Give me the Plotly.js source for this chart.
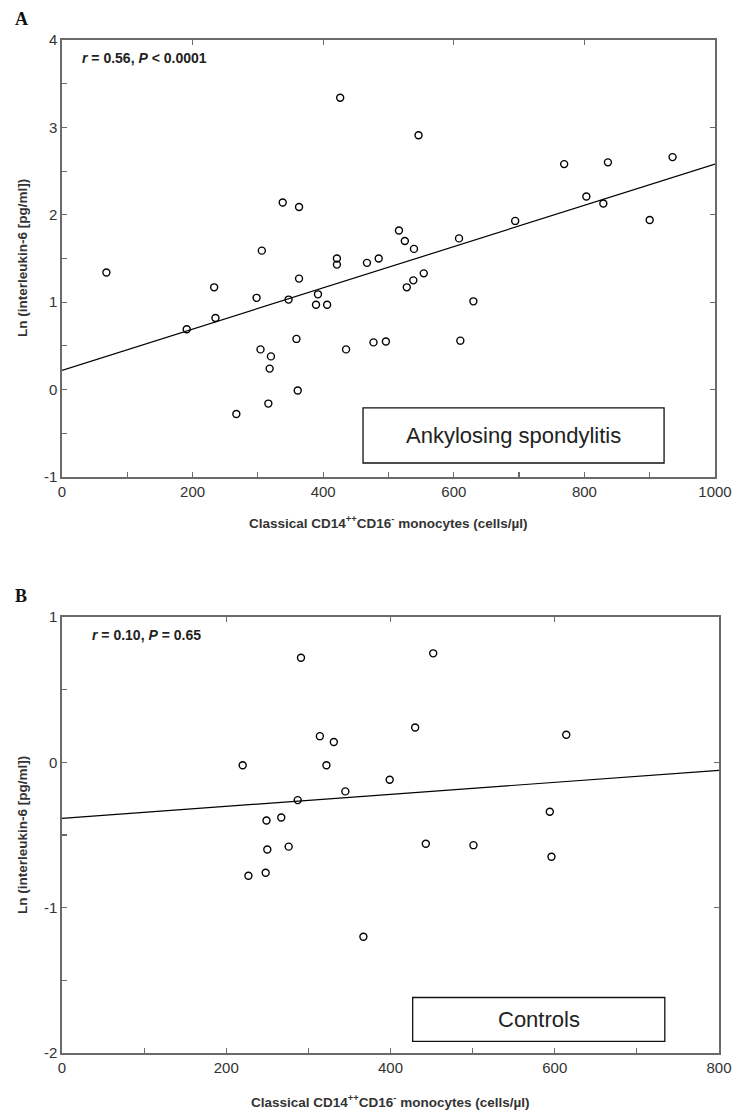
<!DOCTYPE html>
<html>
<head>
<meta charset="utf-8">
<script src="https://cdn.plot.ly/plotly-3.0.1.min.js"></script>
<style>html,body{margin:0;padding:0;background:#fff;}#chart{width:734px;height:1111px;}</style>
</head>
<body>
<div id="chart"></div>
<script>
// Panel A: Ankylosing spondylitis
const asMonocytes = [68,191,233,235,267,298,304,306,316,318,320,338,347,359,361,363,363,389,392,406,421,421,426,435,467,477,485,496,516,525,528,538,539,546,554,608,610,630,694,769,803,829,836,900,935];
const asLnIL6 = [1.34,0.69,1.17,0.82,-0.28,1.05,0.46,1.59,-0.16,0.24,0.38,2.14,1.03,0.58,-0.01,2.09,1.27,0.97,1.09,0.97,1.50,1.43,3.34,0.46,1.45,0.54,1.50,0.55,1.82,1.70,1.17,1.25,1.61,2.91,1.33,1.73,0.56,1.01,1.93,2.58,2.21,2.13,2.60,1.94,2.66];
const asFitX = [0, 1000];
const asFitY = [0.22, 2.58];
const asStat = '<i>r</i> = 0.56, <i>P</i> < 0.0001';
const asLabel = 'Ankylosing spondylitis';
const asXTickVals = [0, 200, 400, 600, 800, 1000];
const asXTickText = ['0', '200', '400', '600', '800', '1000'];
const asYTickVals = [-1, 0, 1, 2, 3, 4];
const asYTickText = ['-1', '0', '1', '2', '3', '4'];

// Panel B: Controls
const ctrlMonocytes = [220,227,248,249,250,267,276,287,291,314,322,331,345,367,399,430,443,452,501,594,596,614];
const ctrlLnIL6 = [-0.02,-0.78,-0.76,-0.40,-0.60,-0.38,-0.58,-0.26,0.72,0.18,-0.02,0.14,-0.20,-1.20,-0.12,0.24,-0.56,0.75,-0.57,-0.34,-0.65,0.19];
const ctrlFitX = [0, 800];
const ctrlFitY = [-0.385, -0.055];
const ctrlStat = '<i>r</i> = 0.10, <i>P</i> = 0.65';
const ctrlLabel = 'Controls';
const ctrlXTickVals = [0, 200, 400, 600, 800];
const ctrlXTickText = ['0', '200', '400', '600', '800'];
const ctrlYTickVals = [-2, -1, 0, 1];
const ctrlYTickText = ['-2', '-1', '0', '1'];

const xTitle = 'Classical CD14<sup>++</sup>CD16<sup>-</sup> monocytes (cells/µl)';
const yTitle = 'Ln (interleukin-6 [pg/ml])';

const W = 734, H = 1111;
const px = v => v / W;
const py = v => 1 - v / H;

const sans = 'Liberation Sans, Arial, sans-serif';
const axisCol = '#6a6a6a';
const tickFont = {family: sans, size: 15, color: '#333'};

const marker = {symbol: 'circle-open', size: 7, color: '#000', line: {width: 1.4, color: '#000'}};

const traces = [
  {x: asMonocytes, y: asLnIL6, type: 'scatter', mode: 'markers', marker: marker, xaxis: 'x', yaxis: 'y', showlegend: false, cliponaxis: false},
  {x: asFitX, y: asFitY, type: 'scatter', mode: 'lines', line: {color: '#000', width: 1.2}, xaxis: 'x', yaxis: 'y', showlegend: false},
  {x: ctrlMonocytes, y: ctrlLnIL6, type: 'scatter', mode: 'markers', marker: marker, xaxis: 'x2', yaxis: 'y2', showlegend: false, cliponaxis: false},
  {x: ctrlFitX, y: ctrlFitY, type: 'scatter', mode: 'lines', line: {color: '#000', width: 1.2}, xaxis: 'x2', yaxis: 'y2', showlegend: false},
  {x: [], y: [], type: 'scatter', mode: 'markers', xaxis: 'x3', yaxis: 'y', showlegend: false},
  {x: [], y: [], type: 'scatter', mode: 'markers', xaxis: 'x', yaxis: 'y3', showlegend: false},
  {x: [], y: [], type: 'scatter', mode: 'markers', xaxis: 'x4', yaxis: 'y2', showlegend: false},
  {x: [], y: [], type: 'scatter', mode: 'markers', xaxis: 'x2', yaxis: 'y4', showlegend: false}
];

function mainAxis(extra) {
  return Object.assign({
    tickmode: 'array',
    ticks: 'inside', ticklen: 5, tickwidth: 1.2, tickcolor: axisCol,
    showline: true, linecolor: axisCol, linewidth: 1.6, mirror: true,
    showgrid: false, zeroline: false, tickfont: tickFont, fixedrange: true
  }, extra);
}
function overlayAxis(extra) {
  return Object.assign({
    tickmode: 'array',
    ticks: 'inside', ticklen: 5, tickwidth: 1.2, tickcolor: axisCol,
    showline: false, showgrid: false, zeroline: false, showticklabels: false, fixedrange: true
  }, extra);
}
const minorX = {tickmode: 'linear', tick0: 0, dtick: 100, ticks: 'inside', ticklen: 5, tickwidth: 1.2, tickcolor: axisCol, showgrid: false};
const minorY = {tickmode: 'linear', tick0: 0, dtick: 0.5, ticks: 'inside', ticklen: 5, tickwidth: 1.2, tickcolor: axisCol, showgrid: false};

const layout = {
  width: W, height: H,
  margin: {l: 0, r: 0, t: 0, b: 0},
  paper_bgcolor: '#fff', plot_bgcolor: '#fff',
  showlegend: false,
  xaxis: mainAxis({domain: [px(62), px(715)], anchor: 'y', range: [0, 1000], tickvals: asXTickVals, ticktext: asXTickText, minor: minorX}),
  yaxis: mainAxis({domain: [py(477), py(40)], anchor: 'x', range: [-1, 4], tickvals: asYTickVals, ticktext: asYTickText, minor: minorY}),
  xaxis3: overlayAxis({overlaying: 'x', anchor: 'y', side: 'top', range: [0, 1000], tickvals: [200, 400, 600, 800]}),
  yaxis3: overlayAxis({overlaying: 'y', anchor: 'x', side: 'right', range: [-1, 4], tickvals: [0, 1, 2, 3]}),
  xaxis2: mainAxis({domain: [px(62), px(719)], anchor: 'y2', range: [0, 800], tickvals: ctrlXTickVals, ticktext: ctrlXTickText, minor: minorX}),
  yaxis2: mainAxis({domain: [py(1053), py(617)], anchor: 'x2', range: [-2, 1], tickvals: ctrlYTickVals, ticktext: ctrlYTickText, minor: minorY}),
  xaxis4: overlayAxis({overlaying: 'x2', anchor: 'y2', side: 'top', range: [0, 800], tickvals: [200, 400, 600]}),
  yaxis4: overlayAxis({overlaying: 'y2', anchor: 'x2', side: 'right', range: [-2, 1], tickvals: [-1, 0]}),
  shapes: [
    {type: 'rect', xref: 'x', yref: 'y', x0: 461, x1: 922, y0: -0.84, y1: -0.21, line: {color: '#111', width: 1.3}, fillcolor: '#fff', layer: 'above'},
    {type: 'rect', xref: 'x2', yref: 'y2', x0: 427, x1: 734, y0: -1.92, y1: -1.618, line: {color: '#111', width: 1.3}, fillcolor: '#fff', layer: 'above'}
  ],
  annotations: [
    {text: '<b>A</b>', xref: 'paper', yref: 'paper', x: px(21), y: py(19), xanchor: 'center', yanchor: 'middle', showarrow: false, font: {family: 'Liberation Serif, Times New Roman, serif', size: 18, color: '#111'}},
    {text: '<b>B</b>', xref: 'paper', yref: 'paper', x: px(21), y: py(596), xanchor: 'center', yanchor: 'middle', showarrow: false, font: {family: 'Liberation Serif, Times New Roman, serif', size: 18, color: '#111'}},
    {text: '<b>' + asStat + '</b>', xref: 'paper', yref: 'paper', x: px(80), y: py(58), xanchor: 'left', yanchor: 'middle', showarrow: false, font: {family: sans, size: 14, color: '#222'}},
    {text: '<b>' + ctrlStat + '</b>', xref: 'paper', yref: 'paper', x: px(90), y: py(635), xanchor: 'left', yanchor: 'middle', showarrow: false, font: {family: sans, size: 14, color: '#222'}},
    {text: asLabel, xref: 'x', yref: 'y', x: 691.5, y: -0.525, xanchor: 'center', yanchor: 'middle', showarrow: false, font: {family: sans, size: 22, color: '#222'}},
    {text: ctrlLabel, xref: 'x2', yref: 'y2', x: 580.5, y: -1.77, xanchor: 'center', yanchor: 'middle', showarrow: false, font: {family: sans, size: 22, color: '#222'}},
    {text: '<b>' + xTitle + '</b>', xref: 'paper', yref: 'paper', x: px(388), y: py(522), xanchor: 'center', yanchor: 'middle', showarrow: false, font: {family: sans, size: 13.5, color: '#333'}},
    {text: '<b>' + xTitle + '</b>', xref: 'paper', yref: 'paper', x: px(390), y: py(1101), xanchor: 'center', yanchor: 'middle', showarrow: false, font: {family: sans, size: 13.5, color: '#333'}},
    {text: '<b>' + yTitle + '</b>', xref: 'paper', yref: 'paper', x: px(22), y: py(258), xanchor: 'center', yanchor: 'middle', textangle: -90, showarrow: false, font: {family: sans, size: 13.5, color: '#333'}},
    {text: '<b>' + yTitle + '</b>', xref: 'paper', yref: 'paper', x: px(22), y: py(835), xanchor: 'center', yanchor: 'middle', textangle: -90, showarrow: false, font: {family: sans, size: 13.5, color: '#333'}}
  ]
};

Plotly.newPlot('chart', traces, layout, {staticPlot: true, displayModeBar: false});
</script>
</body>
</html>
